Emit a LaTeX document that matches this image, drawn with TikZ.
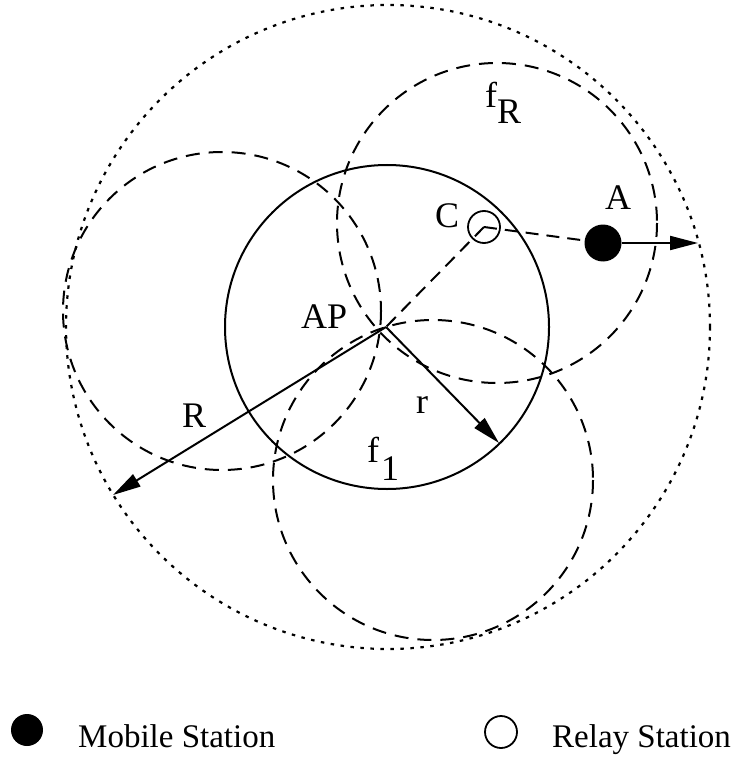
\documentclass[tikz,border=0pt]{standalone}
\usepackage{fontspec}
\setmainfont{Liberation Serif}
\usetikzlibrary{arrows.meta}
\begin{document}
\begin{tikzpicture}[x=1pt,y=-1pt,
  lbl/.style={inner sep=0pt, anchor=base west, font=\fontsize{36}{40}\selectfont},
  leg/.style={inner sep=0pt, anchor=base west, font=\fontsize{33}{38}\selectfont},
  cellrim/.style={line width=2pt},
  relaycell/.style={line width=2pt, dash pattern=on 14pt off 9pt},
  outerrim/.style={line width=2.2pt, dash pattern=on 3.5pt off 6.5pt},
  link/.style={line width=2pt, dash pattern=on 13pt off 8pt},
  vec/.style={line width=2pt, -{Triangle[length=28pt,width=14pt]}},
  ms/.style={circle, fill=black, minimum size=37pt, inner sep=0pt},
  rs/.style={circle, draw, line width=1.8pt, minimum size=32pt, inner sep=0pt},
]
\useasboundingbox (0,0) rectangle (737,759);

% access point and stations
\coordinate (AP) at (386,327);
\node[rs] (C) at (484,227) {};
\node[ms] (A) at (603,243) {};

% coverage areas
\draw[outerrim] (388,327) circle[radius=322];
\draw[cellrim] (387,327) circle[radius=162];
\draw[relaycell] (497,223) circle[radius=160];
\draw[relaycell] (222,311) circle[radius=159];
\draw[relaycell] (433,480) circle[radius=160];

% radii
\coordinate (Rend) at (113,495);
\coordinate (rend) at (499,443);
\draw[vec] (AP) -- (Rend);
\draw[vec] (AP) -- (rend);

% relay path and movement of A
\draw[link] (C.center) -- (AP);
\draw[link] (C.center) -- (A);
\coordinate (Aend) at (698,243);
\draw[vec] (A) -- (Aend);

% labels
\node[lbl] (lAP) at (301,328) {AP};
\node[lbl] (lC) at (435,227) {C};
\node[lbl] (lA) at (605,210) {A};
\node[lbl] (lR) at (182,427) {R};
\node[lbl] (lr) at (416,413) {r};
\node[lbl] (lf1) at (367,462) {f\kern2pt\raisebox{-18pt}{1}};
\node[lbl] (lfR) at (485,108) {f\raisebox{-16pt}{R}};

% legend
\node[ms, minimum size=32pt] (kMS) at (27,730) {};
\node[leg] (tMS) at (78,747) {Mobile Station};
\node[rs] (kRS) at (501,732) {};
\node[leg] (tRS) at (552,747) {Relay Station};
\end{tikzpicture}
\end{document}
